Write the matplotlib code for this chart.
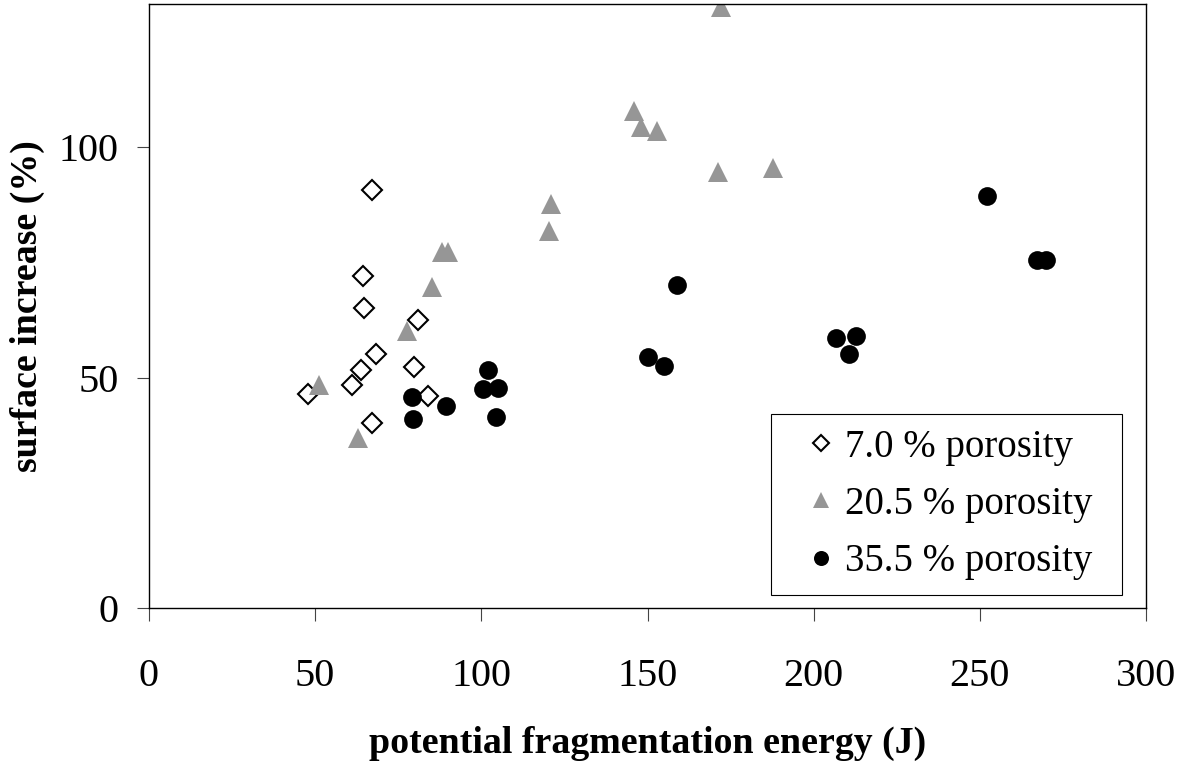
import matplotlib
matplotlib.use('Agg')
import matplotlib.pyplot as plt

plt.rcParams['font.family'] = ['Liberation Serif', 'DejaVu Serif']

# 7.0 % porosity
x_7 = [67.2, 64.3, 64.8, 80.9, 68.3, 79.7, 63.8, 61.1, 47.8, 83.9, 67.2]
y_7 = [90.8, 72.0, 65.1, 62.6, 55.2, 52.4, 51.6, 48.4, 46.5, 46.0, 40.1]

# 20.5 % porosity
x_20 = [88.1, 89.9, 85.3, 77.6, 51.2, 62.8, 172.2, 145.9, 147.9, 152.9,
        171.1, 187.7, 121.1, 120.5]
y_20 = [77.3, 77.3, 69.7, 60.2, 48.3, 36.9, 130.5, 107.9, 104.3, 103.5,
        94.7, 95.5, 87.6, 81.7]

# 35.5 % porosity
x_35 = [79.1, 79.5, 89.4, 102.1, 100.4, 104.9, 104.3, 158.8, 150.0, 154.9,
        252.3, 267.1, 269.8, 206.7, 212.8, 210.6]
y_35 = [45.8, 41.1, 43.8, 51.7, 47.5, 47.8, 41.5, 70.0, 54.5, 52.5,
        89.5, 75.5, 75.5, 58.5, 59.0, 55.2]

fig = plt.figure(figsize=(11.79, 7.64), dpi=100)
ax = fig.add_axes([149 / 1179, 1 - 608 / 764, (1146 - 149) / 1179, (608 - 4.3) / 764])

ax.plot(x_7, y_7, linestyle='none', marker='D', markersize=10.5,
        markerfacecolor='white', markeredgecolor='black', markeredgewidth=1.5,
        label='7.0 % porosity')
ax.plot(x_20, y_20, linestyle='none', marker='^', markersize=14.5,
        color='#969696', markeredgewidth=0, label='20.5 % porosity')
ax.plot(x_35, y_35, linestyle='none', marker='o', markersize=13.5,
        color='black', markeredgewidth=0, label='35.5 % porosity')

ax.set_xlim(0, 300)
ax.set_ylim(0, 131)
ax.set_xticks([0, 50, 100, 150, 200, 250, 300])
ax.set_yticks([0, 50, 100])

for s in ax.spines.values():
    s.set_linewidth(1.0)
    s.set_color('black')

ax.tick_params(axis='both', direction='out', length=9, width=0.8,
               color='#444444', labelsize=29)
ax.tick_params(axis='x', pad=27)
ax.tick_params(axis='y', pad=13)

ax.set_xlabel('potential fragmentation energy (J)', fontsize=27.3,
              fontweight='bold', labelpad=22)
ax.set_ylabel('surface increase (%)', fontsize=27.3, fontweight='bold',
              labelpad=10)

leg = ax.legend(loc='lower left', bbox_to_anchor=(0.6239, 0.0215, 0.352, 0.3),
                mode='expand', borderaxespad=0, fontsize=28, fancybox=False,
                framealpha=1, edgecolor='black', markerscale=0.8,
                handlelength=1.8, handletextpad=-0.28, labelspacing=0.52,
                borderpad=0.38)
leg.get_frame().set_linewidth(0.8)

fig.savefig('out.png', dpi=100)
